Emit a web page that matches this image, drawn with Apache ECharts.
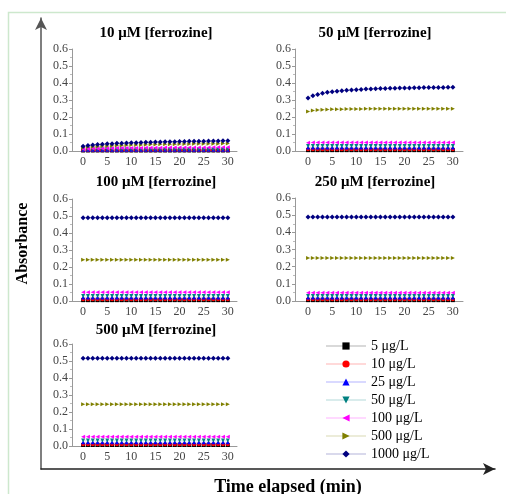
<!DOCTYPE html>
<html>
<head>
<meta charset="utf-8">
<script src="https://cdn.jsdelivr.net/npm/echarts@6/dist/echarts.min.js"></script>
</head>
<body style="margin:0">
<div id="container" style="width:506px;height:494px"></div>
<script type="text/javascript">
// time points (min)
var minutes = [0,1,2,3,4,5,6,7,8,9,10,11,12,13,14,15,16,17,18,19,20,21,22,23,24,25,26,27,28,29,30];
var xTicks = [0, 5, 10, 15, 20, 25, 30];
var seriesNames = ['5 μg/L', '10 μg/L', '25 μg/L', '50 μg/L', '100 μg/L', '500 μg/L', '1000 μg/L'];
var panelTitles = ['10 μM [ferrozine]', '50 μM [ferrozine]', '100 μM [ferrozine]', '250 μM [ferrozine]', '500 μM [ferrozine]'];

// 10 uM ferrozine
var f10_5 = [0.003,0.003,0.003,0.003,0.003,0.003,0.003,0.003,0.003,0.003,0.003,0.003,0.003,0.003,0.003,0.003,0.003,0.003,0.003,0.003,0.003,0.003,0.003,0.003,0.003,0.003,0.003,0.003,0.003,0.003,0.003];
var f10_10 = [0.005,0.005,0.005,0.005,0.005,0.005,0.005,0.005,0.005,0.005,0.005,0.005,0.005,0.005,0.005,0.005,0.005,0.005,0.005,0.005,0.005,0.005,0.005,0.005,0.005,0.005,0.005,0.005,0.005,0.005,0.005];
var f10_25 = [0.007,0.007,0.007,0.008,0.008,0.008,0.008,0.008,0.008,0.008,0.008,0.008,0.008,0.008,0.008,0.008,0.008,0.008,0.008,0.008,0.008,0.008,0.008,0.008,0.008,0.008,0.008,0.008,0.008,0.008,0.008];
var f10_50 = [0.009,0.009,0.010,0.010,0.010,0.010,0.010,0.010,0.010,0.010,0.010,0.011,0.011,0.011,0.011,0.011,0.011,0.011,0.011,0.011,0.011,0.011,0.011,0.011,0.011,0.011,0.011,0.011,0.011,0.011,0.011];
var f10_100 = [0.012,0.013,0.014,0.015,0.015,0.016,0.016,0.017,0.017,0.017,0.018,0.018,0.018,0.019,0.019,0.019,0.019,0.020,0.020,0.020,0.020,0.020,0.021,0.021,0.021,0.021,0.021,0.022,0.022,0.022,0.022];
var f10_500 = [0.020,0.023,0.025,0.027,0.029,0.030,0.031,0.032,0.033,0.034,0.035,0.036,0.036,0.037,0.038,0.038,0.039,0.039,0.040,0.040,0.041,0.041,0.041,0.042,0.042,0.042,0.043,0.043,0.043,0.044,0.044];
var f10_1000 = [0.028,0.032,0.035,0.038,0.040,0.042,0.043,0.045,0.046,0.047,0.048,0.049,0.050,0.051,0.052,0.053,0.053,0.054,0.055,0.055,0.056,0.056,0.057,0.057,0.058,0.058,0.059,0.059,0.059,0.060,0.060];

// 50 uM ferrozine
var f50_5 = [0.005,0.005,0.005,0.005,0.005,0.005,0.005,0.005,0.005,0.005,0.005,0.005,0.005,0.005,0.005,0.005,0.005,0.005,0.005,0.005,0.005,0.005,0.005,0.005,0.005,0.005,0.005,0.005,0.005,0.005,0.005];
var f50_10 = [0.010,0.010,0.010,0.010,0.010,0.010,0.010,0.010,0.010,0.010,0.010,0.010,0.010,0.010,0.010,0.010,0.010,0.010,0.010,0.010,0.010,0.010,0.010,0.010,0.010,0.010,0.010,0.010,0.010,0.010,0.010];
var f50_25 = [0.020,0.020,0.020,0.020,0.020,0.020,0.020,0.020,0.020,0.020,0.020,0.020,0.020,0.020,0.020,0.020,0.020,0.020,0.020,0.020,0.020,0.020,0.020,0.020,0.020,0.020,0.020,0.020,0.020,0.020,0.020];
var f50_50 = [0.029,0.029,0.030,0.030,0.030,0.030,0.030,0.030,0.030,0.030,0.030,0.030,0.030,0.030,0.030,0.030,0.030,0.030,0.030,0.030,0.030,0.030,0.030,0.030,0.030,0.030,0.030,0.030,0.030,0.030,0.030];
var f50_100 = [0.049,0.050,0.050,0.050,0.050,0.050,0.050,0.050,0.050,0.050,0.050,0.050,0.050,0.050,0.050,0.050,0.050,0.050,0.050,0.050,0.050,0.050,0.050,0.050,0.050,0.050,0.050,0.050,0.050,0.050,0.050];
var f50_500 = [0.232,0.238,0.241,0.243,0.244,0.245,0.246,0.246,0.247,0.247,0.247,0.247,0.248,0.248,0.248,0.248,0.248,0.248,0.248,0.248,0.249,0.249,0.249,0.249,0.249,0.249,0.249,0.249,0.249,0.249,0.249];
var f50_1000 = [0.312,0.325,0.333,0.340,0.345,0.349,0.352,0.355,0.357,0.359,0.361,0.362,0.364,0.365,0.366,0.367,0.368,0.369,0.369,0.370,0.371,0.371,0.372,0.372,0.373,0.373,0.374,0.374,0.374,0.375,0.375];

// 100 uM ferrozine
var f100_5 = [0.005,0.005,0.005,0.005,0.005,0.005,0.005,0.005,0.005,0.005,0.005,0.005,0.005,0.005,0.005,0.005,0.005,0.005,0.005,0.005,0.005,0.005,0.005,0.005,0.005,0.005,0.005,0.005,0.005,0.005,0.005];
var f100_10 = [0.010,0.010,0.010,0.010,0.010,0.010,0.010,0.010,0.010,0.010,0.010,0.010,0.010,0.010,0.010,0.010,0.010,0.010,0.010,0.010,0.010,0.010,0.010,0.010,0.010,0.010,0.010,0.010,0.010,0.010,0.010];
var f100_25 = [0.020,0.020,0.020,0.020,0.020,0.020,0.020,0.020,0.020,0.020,0.020,0.020,0.020,0.020,0.020,0.020,0.020,0.020,0.020,0.020,0.020,0.020,0.020,0.020,0.020,0.020,0.020,0.020,0.020,0.020,0.020];
var f100_50 = [0.030,0.030,0.030,0.030,0.030,0.030,0.030,0.030,0.030,0.030,0.030,0.030,0.030,0.030,0.030,0.030,0.030,0.030,0.030,0.030,0.030,0.030,0.030,0.030,0.030,0.030,0.030,0.030,0.030,0.030,0.030];
var f100_100 = [0.052,0.052,0.052,0.052,0.052,0.052,0.052,0.052,0.052,0.052,0.052,0.052,0.052,0.052,0.052,0.052,0.052,0.052,0.052,0.052,0.052,0.052,0.052,0.052,0.052,0.052,0.052,0.052,0.052,0.052,0.052];
var f100_500 = [0.243,0.243,0.243,0.243,0.243,0.243,0.243,0.243,0.243,0.243,0.243,0.243,0.243,0.243,0.243,0.243,0.243,0.243,0.243,0.243,0.243,0.243,0.243,0.243,0.243,0.243,0.243,0.243,0.243,0.243,0.243];
var f100_1000 = [0.490,0.490,0.490,0.490,0.490,0.490,0.490,0.490,0.490,0.490,0.490,0.490,0.490,0.490,0.490,0.490,0.490,0.490,0.490,0.490,0.490,0.490,0.490,0.490,0.490,0.490,0.490,0.490,0.490,0.490,0.490];

// 250 uM ferrozine
var f250_5 = [0.005,0.005,0.005,0.005,0.005,0.005,0.005,0.005,0.005,0.005,0.005,0.005,0.005,0.005,0.005,0.005,0.005,0.005,0.005,0.005,0.005,0.005,0.005,0.005,0.005,0.005,0.005,0.005,0.005,0.005,0.005];
var f250_10 = [0.010,0.010,0.010,0.010,0.010,0.010,0.010,0.010,0.010,0.010,0.010,0.010,0.010,0.010,0.010,0.010,0.010,0.010,0.010,0.010,0.010,0.010,0.010,0.010,0.010,0.010,0.010,0.010,0.010,0.010,0.010];
var f250_25 = [0.020,0.020,0.020,0.020,0.020,0.020,0.020,0.020,0.020,0.020,0.020,0.020,0.020,0.020,0.020,0.020,0.020,0.020,0.020,0.020,0.020,0.020,0.020,0.020,0.020,0.020,0.020,0.020,0.020,0.020,0.020];
var f250_50 = [0.029,0.029,0.029,0.029,0.029,0.029,0.029,0.029,0.029,0.029,0.029,0.029,0.029,0.029,0.029,0.029,0.029,0.029,0.029,0.029,0.029,0.029,0.029,0.029,0.029,0.029,0.029,0.029,0.029,0.029,0.029];
var f250_100 = [0.048,0.048,0.048,0.048,0.048,0.048,0.048,0.048,0.048,0.048,0.048,0.048,0.048,0.048,0.048,0.048,0.048,0.048,0.048,0.048,0.048,0.048,0.048,0.048,0.048,0.048,0.048,0.048,0.048,0.048,0.048];
var f250_500 = [0.250,0.250,0.250,0.250,0.250,0.250,0.250,0.250,0.250,0.250,0.250,0.250,0.250,0.250,0.250,0.250,0.250,0.250,0.250,0.250,0.250,0.250,0.250,0.250,0.250,0.250,0.250,0.250,0.250,0.250,0.250];
var f250_1000 = [0.489,0.489,0.489,0.489,0.489,0.489,0.489,0.489,0.489,0.489,0.489,0.489,0.489,0.489,0.489,0.489,0.489,0.489,0.489,0.489,0.489,0.489,0.489,0.489,0.489,0.489,0.489,0.489,0.489,0.489,0.489];

// 500 uM ferrozine
var f500_5 = [0.006,0.006,0.006,0.006,0.006,0.006,0.006,0.006,0.006,0.006,0.006,0.006,0.006,0.006,0.006,0.006,0.006,0.006,0.006,0.006,0.006,0.006,0.006,0.006,0.006,0.006,0.006,0.006,0.006,0.006,0.006];
var f500_10 = [0.011,0.011,0.011,0.011,0.011,0.011,0.011,0.011,0.011,0.011,0.011,0.011,0.011,0.011,0.011,0.011,0.011,0.011,0.011,0.011,0.011,0.011,0.011,0.011,0.011,0.011,0.011,0.011,0.011,0.011,0.011];
var f500_25 = [0.022,0.022,0.022,0.022,0.022,0.022,0.022,0.022,0.022,0.022,0.022,0.022,0.022,0.022,0.022,0.022,0.022,0.022,0.022,0.022,0.022,0.022,0.022,0.022,0.022,0.022,0.022,0.022,0.022,0.022,0.022];
var f500_50 = [0.033,0.033,0.033,0.033,0.033,0.033,0.033,0.033,0.033,0.033,0.033,0.033,0.033,0.033,0.033,0.033,0.033,0.033,0.033,0.033,0.033,0.033,0.033,0.033,0.033,0.033,0.033,0.033,0.033,0.033,0.033];
var f500_100 = [0.055,0.055,0.055,0.055,0.055,0.055,0.055,0.055,0.055,0.055,0.055,0.055,0.055,0.055,0.055,0.055,0.055,0.055,0.055,0.055,0.055,0.055,0.055,0.055,0.055,0.055,0.055,0.055,0.055,0.055,0.055];
var f500_500 = [0.245,0.245,0.245,0.245,0.245,0.245,0.245,0.245,0.245,0.245,0.245,0.245,0.245,0.245,0.245,0.245,0.245,0.245,0.245,0.245,0.245,0.245,0.245,0.245,0.245,0.245,0.245,0.245,0.245,0.245,0.245];
var f500_1000 = [0.516,0.516,0.516,0.516,0.516,0.516,0.516,0.516,0.516,0.516,0.516,0.516,0.516,0.516,0.516,0.516,0.516,0.516,0.516,0.516,0.516,0.516,0.516,0.516,0.516,0.516,0.516,0.516,0.516,0.516,0.516];

var panelData = [
    [f10_5, f10_10, f10_25, f10_50, f10_100, f10_500, f10_1000],
    [f50_5, f50_10, f50_25, f50_50, f50_100, f50_500, f50_1000],
    [f100_5, f100_10, f100_25, f100_50, f100_100, f100_500, f100_1000],
    [f250_5, f250_10, f250_25, f250_50, f250_100, f250_500, f250_1000],
    [f500_5, f500_10, f500_25, f500_50, f500_100, f500_500, f500_1000]
];

var serif = "'Liberation Serif', 'Times New Roman', serif";
var colors = ['#000000', '#ff0000', '#0000ff', '#008080', '#ff00ff', '#808000', '#000080'];
var symbols = [
    'rect', 'circle', 'triangle',
    'path://M0,0 L10,0 L5,10 Z',
    'path://M10,0 L10,10 L0,5 Z',
    'path://M0,0 L0,10 L10,5 Z',
    'diamond'
];
var symbolSizes = [4, 4, 4, 4, 4, 4, 5];

// panel boxes: [left, top, width, height, xmin, xmax]
var boxes = [
    [72, 49, 165, 102, -2.3, 31.9],
    [295, 49, 168, 102, -2.7, 32.1],
    [72, 199, 165, 102, -2.3, 31.9],
    [295, 198, 168, 103, -2.7, 32.1],
    [72, 344, 165, 102, -2.3, 31.9]
];
var titlePos = [[156, 33], [375, 33], [156, 182], [375, 182], [156, 330]];

var grid = [], xAxis = [], yAxis = [], series = [], graphic = [];
boxes.forEach(function (b, p) {
    grid.push({left: b[0], top: b[1], width: b[2], height: b[3], outerBoundsMode: 'none'});
    xAxis.push({
        type: 'value', gridIndex: p, min: b[4], max: b[5],
        axisLine: {onZero: false, lineStyle: {color: '#999', width: 1}},
        axisTick: {show: false},
        splitLine: {show: false},
        axisLabel: {customValues: xTicks, color: '#444', fontFamily: serif, fontSize: 12, margin: 5}
    });
    yAxis.push({
        type: 'value', gridIndex: p, min: 0, max: 0.6, interval: 0.1,
        axisLine: {show: true, onZero: false, lineStyle: {color: '#999', width: 1}},
        axisTick: {show: true, length: 3, lineStyle: {color: '#999'}},
        minorTick: {show: true, splitNumber: 2, length: 2, lineStyle: {color: '#bbb'}},
        splitLine: {show: false},
        axisLabel: {color: '#444', fontFamily: serif, fontSize: 12, margin: 4,
            formatter: function (v) { return v.toFixed(1); }}
    });
    panelData[p].forEach(function (vals, i) {
        series.push({
            name: seriesNames[i], type: 'line', xAxisIndex: p, yAxisIndex: p,
            data: minutes.map(function (m, k) { return [m, vals[k]]; }),
            symbol: symbols[i], symbolSize: symbolSizes[i],
            itemStyle: {color: colors[i]},
            lineStyle: {color: colors[i], width: 1, opacity: 0.15},
            z: 2 + i, animation: false
        });
    });
    graphic.push({
        type: 'text', x: titlePos[p][0], y: titlePos[p][1],
        style: {text: panelTitles[p], font: 'bold 15px ' + serif, fill: '#000',
            textAlign: 'center', textVerticalAlign: 'middle'}
    });
});

// outer arrow axes
grid.push({left: 41, top: 18, width: 454, height: 451, outerBoundsMode: 'none'});
xAxis.push({
    type: 'value', gridIndex: 5, min: 0, max: 1,
    axisLine: {onZero: false, lineStyle: {color: '#222', width: 1.5}, symbol: ['none', 'arrow'], symbolSize: [9, 12]},
    axisTick: {show: false}, axisLabel: {show: false}, splitLine: {show: false},
    name: 'Time elapsed (min)', nameLocation: 'middle', nameGap: 9,
    nameTextStyle: {fontFamily: serif, fontWeight: 'bold', fontSize: 18, color: '#000', padding: [0, 0, 0, 40]}
});
yAxis.push({
    type: 'value', gridIndex: 5, min: 0, max: 1,
    axisLine: {onZero: false, lineStyle: {color: '#555', width: 1.5}, symbol: ['none', 'arrow'], symbolSize: [9, 12]},
    axisTick: {show: false}, axisLabel: {show: false}, splitLine: {show: false},
    name: 'Absorbance', nameLocation: 'middle', nameGap: 10, nameRotate: 90,
    nameTextStyle: {fontFamily: serif, fontWeight: 'bold', fontSize: 16, color: '#000'}
});

graphic.push({
    type: 'rect', shape: {x: 8.5, y: 12.5, width: 510, height: 500},
    style: {fill: 'none', stroke: '#cde8cd', lineWidth: 1.5}, z: -1
});

var myChart = echarts.init(document.getElementById('container'));
var option = {
    backgroundColor: '#fff',
    animation: false,
    grid: grid,
    xAxis: xAxis,
    yAxis: yAxis,
    legend: {
        orient: 'vertical', left: 320, top: 334,
        itemWidth: 40, itemHeight: 9, itemGap: 4,
        data: seriesNames,
        textStyle: {fontFamily: serif, fontSize: 14, color: '#000'}
    },
    graphic: graphic,
    series: series
};
myChart.setOption(option);
</script>
</body>
</html>
